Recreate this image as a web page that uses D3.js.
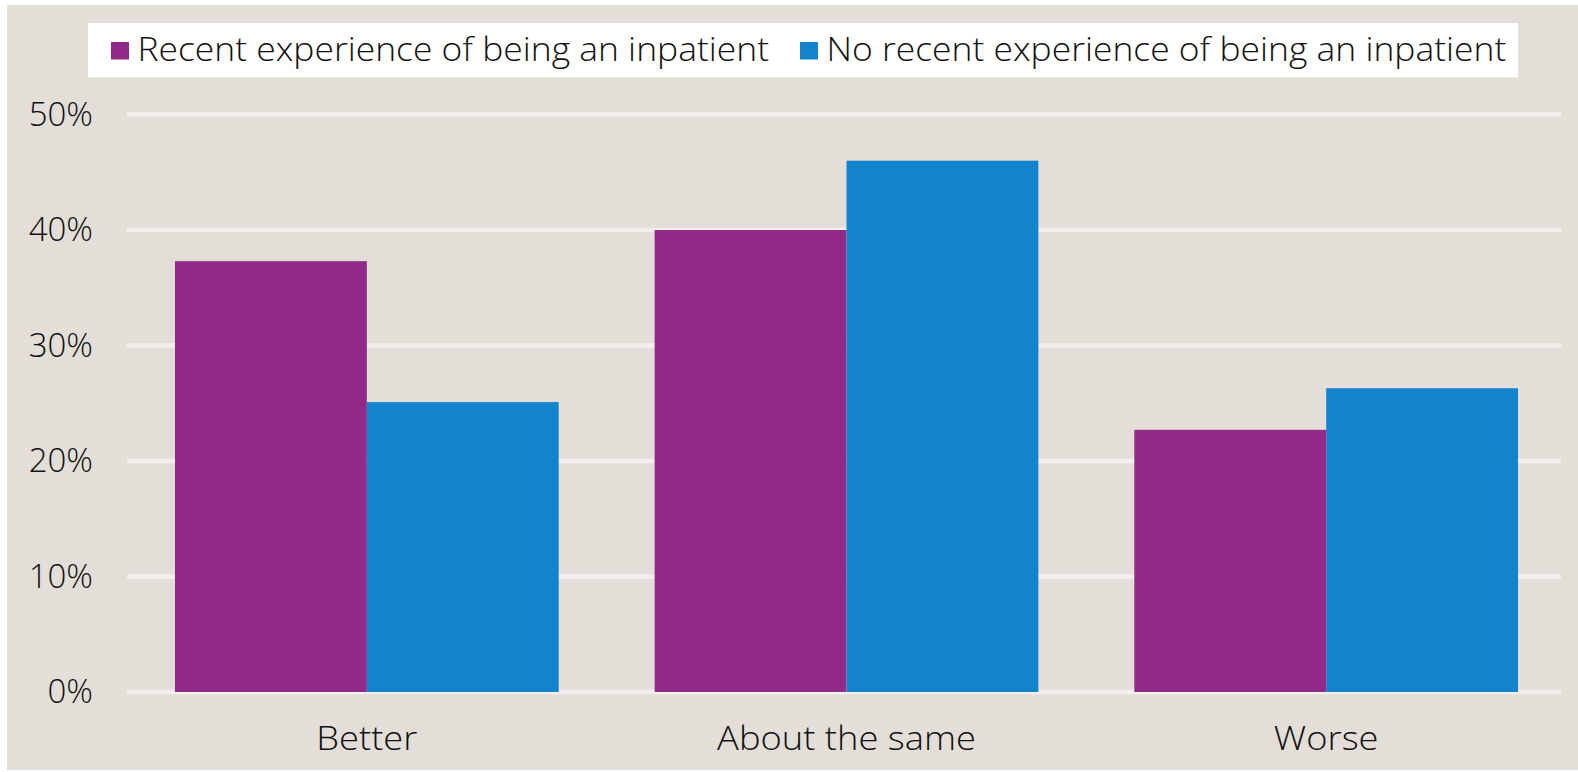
<!DOCTYPE html>
<html lang="en">
<head>
    <meta charset="UTF-8">
    <title>Inpatient experience</title>
    <script src="https://cdn.jsdelivr.net/npm/d3@7"></script>
    <style>
        body { margin: 0; background: #fff; }
        text { font-family: "Open Sans", sans-serif; font-weight: 300; fill: #111; }
    </style>
</head>
<body>
    <svg width="1578" height="772"></svg>

    <script>
        // data
        var categories = ["Better", "About the same", "Worse"];
        var seriesNames = ["Recent experience of being an inpatient", "No recent experience of being an inpatient"];
        var recentValues = [37.3, 40.0, 22.7];
        var noRecentValues = [25.1, 46.0, 26.3];
        var yTicks = [0, 10, 20, 30, 40, 50];
        var colors = ["#922b87", "#1283cd"];

        var width = 1578, height = 772;
        var svg = d3.select("svg");

        // the original font is wider than Open Sans, so stretch text a little
        function widen(sel, k) {
            sel.each(function() {
                var len = this.getComputedTextLength();
                d3.select(this)
                    .attr("textLength", len * k)
                    .attr("lengthAdjust", "spacingAndGlyphs");
            });
        }

        // beige panel
        svg.append("rect")
            .attr("x", 7).attr("y", 5)
            .attr("width", width - 7).attr("height", 765)
            .attr("fill", "#e3dfd8");

        var plotLeft = 127, plotRight = 1566, gridRight = 1561;
        var plotTop = 114.5, plotBottom = 692;

        var x = d3.scaleBand()
            .domain(categories)
            .range([plotLeft, plotRight])
            .paddingInner(0.2)
            .paddingOuter(0.1);

        var xs = d3.scaleBand()
            .domain([0, 1])
            .range([0, x.bandwidth()]);

        var y = d3.scaleLinear()
            .domain([0, 50])
            .range([plotBottom, plotTop]);

        // gridlines
        svg.append("g")
            .selectAll("line")
            .data(yTicks)
            .enter().append("line")
            .attr("x1", plotLeft).attr("x2", gridRight)
            .attr("y1", function(d) { return y(d); })
            .attr("y2", function(d) { return y(d); })
            .attr("stroke", "#f2f0ec")
            .attr("stroke-width", 4.5);

        // y axis labels
        var yAxis = d3.axisLeft(y)
            .tickValues(yTicks)
            .tickFormat(function(d) { return d + "%"; })
            .tickSize(0)
            .tickPadding(0);
        var gy = svg.append("g")
            .attr("transform", "translate(93,0)")
            .call(yAxis);
        gy.select(".domain").remove();
        gy.selectAll("text")
            .attr("font-size", 33)
            .attr("font-family", null)
            .attr("fill", "#111");

        // bars
        var rows = categories.map(function(c, i) {
            return { cat: c, vals: [recentValues[i], noRecentValues[i]] };
        });

        var groups = svg.append("g")
            .selectAll("g")
            .data(rows)
            .enter().append("g")
            .attr("transform", function(d) { return "translate(" + x(d.cat) + ",0)"; });

        groups.selectAll("rect")
            .data(function(d) { return d.vals.map(function(v, j) { return { j: j, v: v }; }); })
            .enter().append("rect")
            .attr("x", function(d) { return xs(d.j); })
            .attr("width", xs.bandwidth())
            .attr("y", function(d) { return y(d.v); })
            .attr("height", function(d) { return y(0) - y(d.v); })
            .attr("fill", function(d) { return colors[d.j]; });

        // x axis labels
        var xAxis = d3.axisBottom(x).tickSize(0).tickPadding(0);
        var gx = svg.append("g")
            .attr("transform", "translate(0,750)")
            .call(xAxis);
        gx.select(".domain").remove();
        gx.selectAll("text")
            .attr("font-size", 33)
            .attr("font-family", null)
            .attr("fill", "#111")
            .attr("dy", 0);
        widen(gx.selectAll("text"), 1.1);

        // legend
        svg.append("rect")
            .attr("x", 88).attr("y", 23)
            .attr("width", 1430).attr("height", 54.5)
            .attr("fill", "#fff");

        var legendX = [111, 800];
        var legend = svg.append("g")
            .selectAll("g")
            .data(seriesNames)
            .enter().append("g")
            .attr("transform", function(d, i) { return "translate(" + legendX[i] + ",0)"; });

        legend.append("rect")
            .attr("x", 0).attr("y", 42)
            .attr("width", 18).attr("height", 17.5)
            .attr("fill", function(d, i) { return colors[i]; });

        var legendText = legend.append("text")
            .attr("x", 26.5).attr("y", 60.7)
            .attr("font-size", 32.5)
            .text(function(d) { return d; });
        widen(legendText, 1.09);
    </script>
</body>
</html>
